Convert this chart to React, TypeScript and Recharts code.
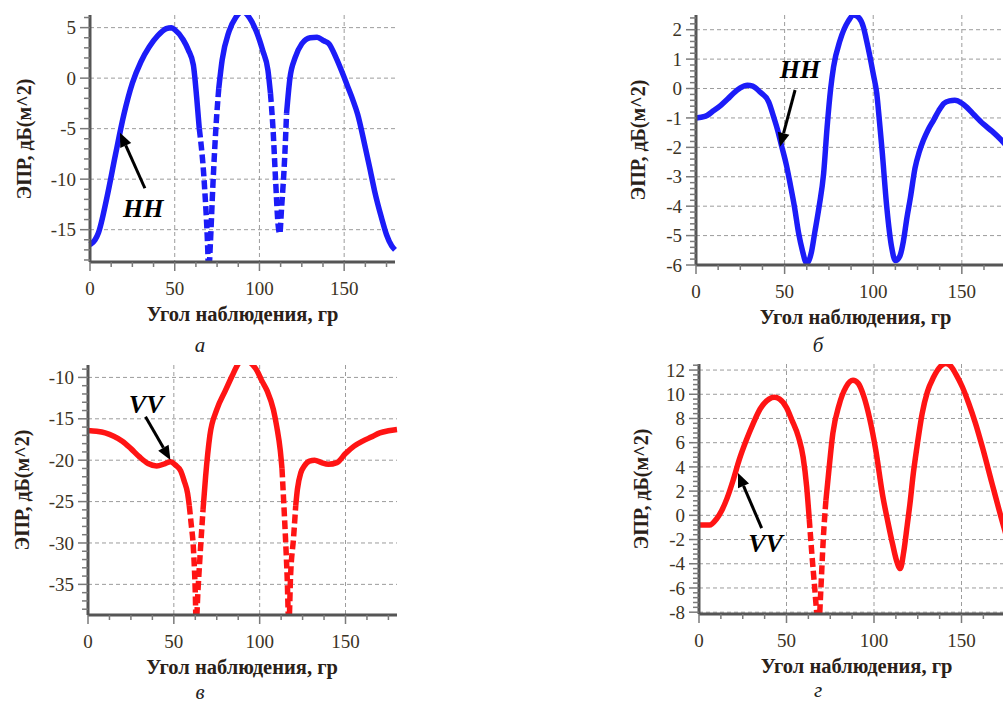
import React from 'react';
import { LineChart, Line, XAxis, YAxis, CartesianGrid, ReferenceLine, ReferenceDot } from 'recharts';

// --- data ---
const ANGLE_A = [0, 3, 5, 10, 15, 20, 25, 30, 35, 40, 45, 48, 50, 55, 58, 61, 63, 64.5, 67.5, 69.5, 70, 71, 72.5, 74.5, 76, 78, 82, 86, 90, 94, 98, 102, 105, 106.5, 108, 109.5, 111, 112, 113, 115, 116, 118, 121, 125, 130, 134, 138, 141, 145, 149, 152, 155, 158, 162, 165, 168, 172, 175, 178, 180];
const EPR_A = [-16.5, -16.0, -15.3, -11.8, -7.6, -3.6, -0.5, 1.6, 3.1, 4.2, 4.9, 5.0, 4.8, 3.8, 2.8, 1.3, -2.0, -5.0, -10.5, -17.0, -19.5, -16.5, -10.7, -4.4, -1.0, 1.8, 4.6, 6.0, 6.6, 6.0, 4.7, 2.7, 0.8, -1.5, -5.0, -10.0, -14.5, -15.4, -13.0, -7.5, -3.5, 0.0, 2.0, 3.4, 4.0, 4.05, 3.7, 3.4, 2.1, 0.5, -0.8, -2.1, -3.6, -6.5, -8.8, -11.2, -13.8, -15.5, -16.6, -17.0];
const DASH_A = [[64.5, 76], [106.5, 116]];

const ANGLE_B = [0, 5, 10, 14, 18, 21, 25, 29, 32, 36, 41, 44, 46, 48.5, 51, 53, 55.5, 58, 60, 62.5, 65, 67, 69.5, 72, 74, 76, 77.6, 81.3, 86, 89, 92, 94.4, 96, 98.2, 100, 102, 103.5, 105, 107.6, 110.4, 112.5, 115, 117, 119, 121, 123.6, 126, 128.3, 131, 134, 137, 140, 143, 146, 150, 153, 157, 162, 167, 172.4, 176, 180];
const EPR_B = [-1.0, -0.95, -0.75, -0.57, -0.35, -0.17, 0.02, 0.11, 0.08, -0.11, -0.45, -1.0, -1.4, -2.0, -2.6, -3.2, -4.0, -4.95, -5.5, -5.95, -5.6, -4.9, -4.0, -2.9, -1.3, 0.0, 0.73, 1.64, 2.3, 2.5, 2.4, 2.1, 1.7, 1.07, 0.5, -0.17, -1.1, -2.1, -4.0, -5.4, -5.85, -5.7, -5.2, -4.4, -3.7, -2.7, -2.15, -1.76, -1.4, -1.08, -0.75, -0.5, -0.42, -0.4, -0.5, -0.65, -0.9, -1.2, -1.45, -1.76, -2.0, -2.2];
const DASH_B: number[][] = [];

const ANGLE_C = [0, 5, 10, 15, 20, 25, 30, 35, 40, 45, 48, 51, 54, 56, 58, 59, 60, 61.5, 62.5, 63, 64, 65.5, 67, 68.5, 71, 75, 80, 84, 86.8, 88, 90, 92, 94, 96, 98.5, 101, 104.3, 108, 110, 112, 113, 114, 115, 116, 117, 118, 119.8, 121, 122, 124, 126, 129, 132, 136, 140, 145, 150, 155, 160, 165, 170, 175, 180];
const EPR_C = [-16.4, -16.5, -16.7, -17.1, -17.7, -18.6, -19.6, -20.4, -20.7, -20.4, -20.2, -20.6, -21.3, -22.5, -24.0, -25.5, -27.5, -31.0, -36.0, -40.0, -36.0, -30.8, -26.0, -22.0, -17.0, -13.9, -11.6, -9.8, -8.6, -8.2, -7.8, -7.8, -8.1, -8.5, -9.2, -10.3, -11.6, -13.9, -16.0, -18.8, -21.0, -25.0, -29.2, -34.0, -40.0, -34.0, -29.2, -25.5, -23.5, -21.5, -20.7, -20.1, -20.0, -20.3, -20.5, -20.3, -19.2, -18.3, -17.7, -17.2, -16.7, -16.45, -16.3];
const DASH_C = [[59, 67], [113, 121]];

const ANGLE_D = [0, 6, 10, 13, 16, 19.5, 23, 27, 31, 35, 40, 43, 46, 50, 53, 57, 59.5, 61.5, 63, 64.5, 66, 67.5, 68.5, 69.5, 71, 72.5, 74, 76.5, 80, 84, 88, 91, 94, 97.5, 101, 105, 108, 110.5, 113, 115, 117, 119, 120.5, 122.5, 124.5, 127.5, 130.5, 134, 138, 141, 144, 147, 150.5, 154, 158, 162, 167.5, 172.5, 176, 180];
const EPR_D = [-0.8, -0.8, -0.3, 0.4, 1.4, 2.9, 4.6, 6.2, 7.6, 8.8, 9.6, 9.75, 9.6, 8.9, 7.9, 6.4, 4.8, 2.4, -0.3, -3.2, -5.8, -8.3, -9.0, -6.5, -2.0, 1.2, 3.4, 6.8, 9.1, 10.6, 11.15, 10.9, 9.9, 8.0, 5.4, 1.6, -0.6, -2.3, -3.8, -4.4, -3.0, -0.8, 0.9, 3.5, 5.6, 8.4, 10.2, 11.4, 12.3, 12.55, 12.3, 11.6, 10.6, 9.3, 7.6, 5.6, 2.6, -0.1, -1.9, -3.9];
const DASH_D = [[63, 72.5]];

// --- ticks ---
const X_MAJOR = [0, 50, 100, 150];
const X_MINOR_STEP = 12.5;
const Y_MAJOR_A = [-15, -10, -5, 0, 5];
const Y_MAJOR_B = [-6, -5, -4, -3, -2, -1, 0, 1, 2];
const Y_MAJOR_C = [-35, -30, -25, -20, -15, -10];
const Y_MAJOR_D = [-8, -6, -4, -2, 0, 2, 4, 6, 8, 10, 12];

// --- annotations: [angle, value] ---
const ANN_A = { label: 'HH', tail: [32.4, -10.9], head: [17.7, -5.4], text: [31.4, -13.7] };
const ANN_B = { label: 'HH', tail: [55.9, -0.05], head: [47.4, -1.98], text: [58.7, 0.36] };
const ANN_C = { label: 'VV', tail: [33.5, -14.74], head: [48.0, -19.97], text: [33.9, -14.33] };
const ANN_D = { label: 'VV', tail: [35.8, -1.06], head: [22.3, 3.5], text: [38.0, -2.99] };

const X_TITLE = 'Угол наблюдения, гр';
const Y_TITLE = 'ЭПР, дБ(м^2)';

const BLUE = '#1c1cf8';
const RED = '#ff1414';
const SERIF = '"Liberation Serif", "Times New Roman", serif';

const stepTicks = (lo: number, hi: number, step: number) => {
  const out: number[] = [];
  for (let v = Math.ceil(lo / step - 1e-9) * step; v <= hi + 1e-9; v += step) out.push(Math.round(v * 1000) / 1000);
  return out;
};

const buildRows = (angles: number[], values: number[], dashes: number[][]) =>
  angles.map((a, i) => {
    const inside = dashes.some(([lo, hi]) => a > lo && a < hi);
    const onDash = dashes.some(([lo, hi]) => a >= lo && a <= hi);
    return { angle: a, solid: inside ? null : values[i], dashed: onDash ? values[i] : null };
  });

const XTick = (props: any) => {
  const { x, y, payload } = props;
  const major = X_MAJOR.includes(payload.value);
  return (
    <g>
      <line x1={x} x2={x} y1={y} y2={y + (major ? 9 : 5)} stroke="#7a7a7a" strokeWidth={1.5} />
      {major && (
        <text x={x} y={y + 33} textAnchor="middle" fontSize={19} fontFamily={SERIF} fill="#3b3324">
          {payload.value}
        </text>
      )}
    </g>
  );
};

const makeYTick = (majors: number[]) => (props: any) => {
  const { x, y, payload } = props;
  const major = majors.some((m) => Math.abs(m - payload.value) < 1e-6);
  return (
    <g>
      <line x1={x} x2={x - (major ? 10 : 6)} y1={y} y2={y} stroke="#7a7a7a" strokeWidth={1.5} />
      {major && (
        <text x={x - 14} y={y} dy="0.35em" textAnchor="end" fontSize={19} fontFamily={SERIF} fill="#3b3324">
          {payload.value}
        </text>
      )}
    </g>
  );
};

const ArrowShape = (p: any) => {
  const { x1, y1, x2, y2 } = p;
  const dx = x2 - x1;
  const dy = y2 - y1;
  const len = Math.sqrt(dx * dx + dy * dy) || 1;
  const ux = dx / len;
  const uy = dy / len;
  const hl = 14;
  const hw = 6;
  const bx = x2 - ux * hl;
  const by = y2 - uy * hl;
  return (
    <g>
      <line x1={x1} y1={y1} x2={bx} y2={by} stroke="#000" strokeWidth={3} />
      <polygon points={`${x2},${y2} ${bx - uy * hw},${by + ux * hw} ${bx + uy * hw},${by - ux * hw}`} fill="#000" />
    </g>
  );
};

const Panel = (props: any) => {
  const { cfg } = props;
  const rows = buildRows(cfg.angles, cfg.values, cfg.dashes);
  const xTicks = stepTicks(0, 180, X_MINOR_STEP);
  const yTicks = stepTicks(cfg.domain[0], cfg.domain[1], cfg.yStep);
  const ann = cfg.ann;
  return (
    <div style={{ position: 'absolute', left: cfg.left - 90, top: cfg.top - 10 }}>
      <LineChart width={90 + cfg.w + 10} height={10 + cfg.h + 80} data={rows} margin={{ top: 10, right: 10, bottom: 0, left: 0 }}>
        <CartesianGrid stroke="#9c9c9c" strokeDasharray="4 3" horizontalValues={cfg.majors} verticalValues={X_MAJOR} />
        <XAxis
          dataKey="angle"
          type="number"
          domain={[0, 180]}
          ticks={xTicks}
          interval={0}
          tickSize={0}
          tickMargin={0}
          tickLine={false}
          tick={<XTick />}
          height={80}
          axisLine={{ stroke: '#555', strokeWidth: 3 }}
        />
        <YAxis
          type="number"
          domain={cfg.domain}
          allowDataOverflow
          ticks={yTicks}
          interval={0}
          tickSize={0}
          tickMargin={0}
          tickLine={false}
          tick={makeYTick(cfg.majors)}
          width={90}
          axisLine={{ stroke: '#555', strokeWidth: 3 }}
        />
        <Line dataKey="solid" type="monotone" stroke={cfg.color} strokeWidth={5.5} dot={false} connectNulls={false} isAnimationActive={false} />
        <Line dataKey="dashed" type="monotone" stroke={cfg.color} strokeWidth={5.5} strokeDasharray="9 4" dot={false} connectNulls={false} isAnimationActive={false} />
        <ReferenceLine
          segment={[{ x: ann.tail[0], y: ann.tail[1] }, { x: ann.head[0], y: ann.head[1] }]}
          shape={ArrowShape}
          ifOverflow="visible"
        />
        <ReferenceDot
          x={ann.text[0]}
          y={ann.text[1]}
          ifOverflow="visible"
          shape={(p: any) => (
            <text x={p.cx} y={p.cy} textAnchor="middle" fontSize={26} fontWeight="bold" fontStyle="italic" fontFamily={SERIF} fill="#000">
              {ann.label}
            </text>
          )}
        />
      </LineChart>
    </div>
  );
};

const PANELS = [
  { left: 90, top: 15, w: 305, h: 247, domain: [-18.2, 6.25], yStep: 1, majors: Y_MAJOR_A, angles: ANGLE_A, values: EPR_A, dashes: DASH_A, color: BLUE, ann: ANN_A, yTitleX: 24, letter: 'а', letterPos: [200, 345] },
  { left: 696, top: 15, w: 319, h: 250, domain: [-6, 2.5], yStep: 0.2, majors: Y_MAJOR_B, angles: ANGLE_B, values: EPR_B, dashes: DASH_B, color: BLUE, ann: ANN_B, yTitleX: 638, letter: 'б', letterPos: [818, 345] },
  { left: 87.5, top: 365, w: 309, h: 250, domain: [-38.7, -8.5], yStep: 1, majors: Y_MAJOR_C, angles: ANGLE_C, values: EPR_C, dashes: DASH_C, color: RED, ann: ANN_C, yTitleX: 22, letter: 'в', letterPos: [200, 692] },
  { left: 699, top: 364, w: 315, h: 250, domain: [-8.15, 12.5], yStep: 0.4, majors: Y_MAJOR_D, angles: ANGLE_D, values: EPR_D, dashes: DASH_D, color: RED, ann: ANN_D, yTitleX: 641, letter: 'г', letterPos: [818, 690] },
];

export default function App() {
  return (
    <div style={{ position: 'fixed', left: 0, top: 0, width: 1003, height: 702, overflow: 'hidden', background: '#fff', fontFamily: SERIF }}>
      {PANELS.map((cfg, i) => (
        <React.Fragment key={i}>
          <Panel cfg={cfg} />
          <div
            style={{
              position: 'absolute',
              left: cfg.left + cfg.w / 2,
              top: cfg.top + cfg.h + 52,
              transform: 'translate(-50%, -50%)',
              fontSize: 20.5,
              fontWeight: 'bold',
              color: '#2a2118',
              whiteSpace: 'nowrap',
            }}
          >
            {X_TITLE}
          </div>
          <div
            style={{
              position: 'absolute',
              left: cfg.yTitleX,
              top: cfg.top + cfg.h / 2,
              transform: 'translate(-50%, -50%) rotate(-90deg)',
              fontSize: 20,
              fontWeight: 'bold',
              color: '#2a2118',
              whiteSpace: 'nowrap',
            }}
          >
            {Y_TITLE}
          </div>
          <div
            style={{
              position: 'absolute',
              left: cfg.letterPos[0],
              top: cfg.letterPos[1],
              transform: 'translate(-50%, -50%)',
              fontSize: 21,
              fontStyle: 'italic',
              color: '#222',
            }}
          >
            {cfg.letter}
          </div>
        </React.Fragment>
      ))}
    </div>
  );
}
